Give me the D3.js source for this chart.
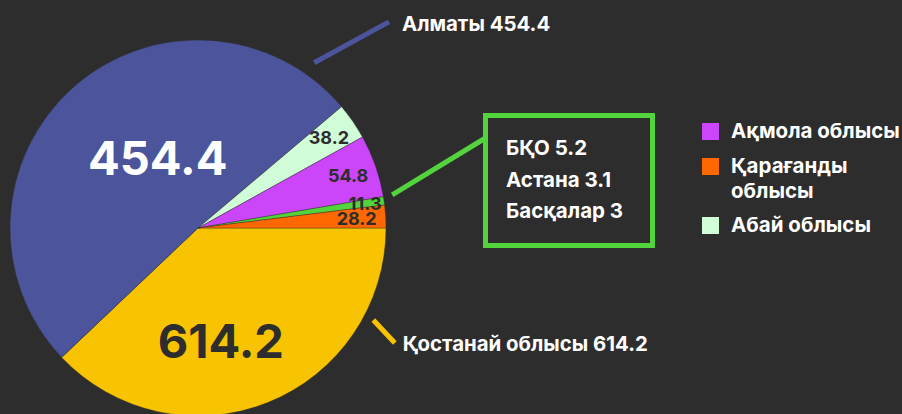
<!DOCTYPE html>
<html>
<head>
<meta charset="utf-8">
<script src="https://cdn.jsdelivr.net/npm/d3@7"></script>
<style>
  html, body { margin: 0; padding: 0; background: #2d2d2d; }
  svg { display: block; font-family: Inter, "Noto Sans", sans-serif; font-weight: 700; }
</style>
</head>
<body>
<div id="chart"></div>
<script>
// Slices in drawing order, clockwise from 3 o'clock
const regions = ["Қостанай облысы", "Алматы", "Абай облысы", "Ақмола облысы", "Басқа", "Қарағанды облысы"];
// numbers printed on the slices
const shownValues = [614.2, 454.4, 38.2, 54.8, 11.3, 28.2];
// slice sizes as drawn in the picture (the two big ones do not follow their labels)
const sliceSizes = [455, 611, 37.5, 64.5, 8.5, 23.5];
const colors = ["#f8c300", "#4c559c", "#d0fcd8", "#cb45fb", "#54d43c", "#ff6700"];

// boxed breakdown of the small green slice
const otherNames = ["БҚО", "Астана", "Басқалар"];
const otherValues = [5.2, 3.1, 3];

// legend
const legendNames = ["Ақмола облысы", "Қарағанды облысы", "Абай облысы"];

const width = 902, height = 414;
const cx = 198, cy = 228, radius = 188;

const svg = d3.select("#chart")
    .append("svg")
    .attr("width", width)
    .attr("height", height);

svg.append("rect")
    .attr("width", width)
    .attr("height", height)
    .attr("fill", "#2d2d2d");

const g = svg.append("g")
    .attr("transform", `translate(${cx}, ${cy})`);

const data = regions.map((name, i) => ({
    name: name,
    value: shownValues[i],
    size: sliceSizes[i],
    color: colors[i]
}));

const pie = d3.pie()
    .sort(null)
    .value(d => d.size)
    .startAngle(Math.PI / 2)
    .endAngle(Math.PI / 2 + 2 * Math.PI);

const arcs = pie(data);

const arc = d3.arc()
    .innerRadius(0)
    .outerRadius(radius);

g.selectAll(".slice")
    .data(arcs)
    .join("path")
    .attr("class", "slice")
    .attr("d", arc)
    .attr("fill", d => d.data.color)
    .attr("stroke", "#2d2d2d")
    .attr("stroke-width", 0.4);

// slice labels
const mid = d => (d.startAngle + d.endAngle) / 2;
const labelPos = function(d, i) {
    if (i === 0) return d3.pointRadial(mid(d) + 0.18, 115);
    if (i === 1) return d3.pointRadial(mid(d) + 0.21, 81);
    const r = (d.endAngle - d.startAngle) < 0.06 ? 169 : 159;
    return d3.pointRadial(mid(d), r);
};

g.selectAll(".val")
    .data(arcs)
    .join("text")
    .attr("class", "val")
    .attr("x", (d, i) => labelPos(d, i)[0])
    .attr("y", (d, i) => labelPos(d, i)[1])
    .attr("dy", "0.36em")
    .attr("text-anchor", "middle")
    .attr("font-size", (d, i) => i < 2 ? 47 : 18)
    .attr("fill", (d, i) => i === 1 ? "#ffffff" : "#2d2d2d")
    .text(d => d.data.value);

// annotation lines
const callouts = [
    {i: 1, a0: 35.1, r0: 202, a1: 42.8, r1: 281, text: "Алматы " + shownValues[1], dx: 13, dy: 9},
    {i: 0, a0: 117.7, r0: 198, a1: 120.3, r1: 228, text: "Қостанай облысы " + shownValues[0], dx: 8, dy: 8}
];

callouts.forEach(function(c) {
    const p0 = d3.pointRadial(c.a0 * Math.PI / 180, c.r0);
    const p1 = d3.pointRadial(c.a1 * Math.PI / 180, c.r1);
    g.append("line")
        .attr("x1", p0[0]).attr("y1", p0[1])
        .attr("x2", p1[0]).attr("y2", p1[1])
        .attr("stroke", colors[c.i])
        .attr("stroke-width", 5);
    g.append("text")
        .attr("x", p1[0] + c.dx)
        .attr("y", p1[1] + c.dy)
        .attr("font-size", 20.4)
        .attr("fill", "#ffffff")
        .text(c.text);
});

// box for the green slice
const box = {x: 485.5, y: 115.5, w: 167, h: 130};
const gStart = d3.pointRadial(80.3 * Math.PI / 180, 197);
svg.append("line")
    .attr("x1", cx + gStart[0]).attr("y1", cy + gStart[1])
    .attr("x2", box.x).attr("y2", 138)
    .attr("stroke", colors[4])
    .attr("stroke-width", 5);

svg.append("rect")
    .attr("x", box.x).attr("y", box.y)
    .attr("width", box.w).attr("height", box.h)
    .attr("fill", "none")
    .attr("stroke", colors[4])
    .attr("stroke-width", 5);

svg.selectAll(".other")
    .data(otherNames)
    .join("text")
    .attr("class", "other")
    .attr("x", 506)
    .attr("y", (d, i) => 155 + i * 31.5)
    .attr("font-size", 20.5)
    .attr("fill", "#ffffff")
    .text((d, i) => d + " " + otherValues[i]);

// legend
const legendColor = d3.scaleOrdinal()
    .domain(regions)
    .range(colors);

const legendY = [123, 158, 217];
const legend = svg.append("g")
    .attr("transform", "translate(702, 0)");

legendNames.forEach(function(name, i) {
    legend.append("rect")
        .attr("x", 0)
        .attr("y", legendY[i])
        .attr("width", 17)
        .attr("height", 17)
        .attr("fill", legendColor(name));
    const words = i === 1 ? ["Қарағанды", "облысы"] : [name];
    const t = legend.append("text")
        .attr("x", 29)
        .attr("y", legendY[i] + 15)
        .attr("font-size", 20.5)
        .attr("fill", "#ffffff");
    words.forEach((w, j) => {
        t.append("tspan")
            .attr("x", 29)
            .attr("dy", j === 0 ? 0 : 25)
            .text(w);
    });
});
</script>
</body>
</html>
